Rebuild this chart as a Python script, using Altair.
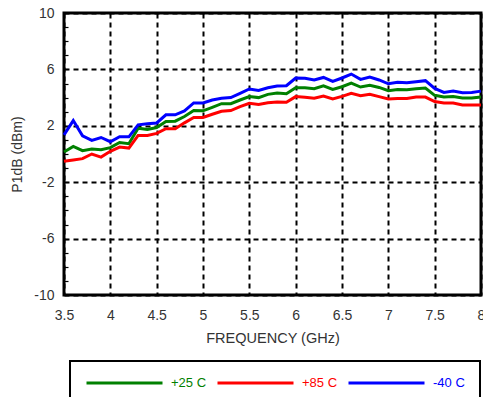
import altair as alt
import pandas as pd

freq = [3.5, 3.6, 3.7, 3.8, 3.9, 4.0, 4.1, 4.2, 4.3, 4.4, 4.5, 4.6, 4.7, 4.8, 4.9,
        5.0, 5.1, 5.2, 5.3, 5.4, 5.5, 5.6, 5.7, 5.8, 5.9, 6.0, 6.1, 6.2, 6.3, 6.4,
        6.5, 6.6, 6.7, 6.8, 6.9, 7.0, 7.1, 7.2, 7.3, 7.4, 7.5, 7.6, 7.7, 7.8, 7.9, 8.0]

p25 = [0.14, 0.54, 0.24, 0.35, 0.30, 0.45, 0.82, 0.73, 1.83, 1.74,
       1.88, 2.30, 2.33, 2.66, 3.08, 3.06, 3.31, 3.57, 3.57, 3.83,
       4.07, 4.00, 4.23, 4.33,
       4.28, 4.70, 4.70, 4.63, 4.84, 4.58, 4.77, 5.03, 4.75, 4.87,
       4.72, 4.49, 4.58, 4.56, 4.63, 4.68, 4.16, 4.05, 4.07, 3.98,
       3.98, 4.05]

p85 = [-0.52, -0.43, -0.33, 0.00, -0.22, 0.19, 0.49, 0.42, 1.32, 1.32,
       1.46, 1.79, 1.79, 2.21, 2.59, 2.59, 2.82, 3.03, 3.08, 3.36,
       3.59, 3.52, 3.64, 3.69,
       3.67, 4.07, 4.02, 3.95, 4.11, 3.90, 4.09, 4.30, 4.14, 4.23,
       4.07, 3.90, 3.93, 3.93, 4.04, 4.04, 3.72, 3.62, 3.62, 3.48,
       3.48, 3.48]

m40 = [1.36, 2.37, 1.29, 0.96, 1.17, 0.87, 1.22, 1.22, 2.07, 2.15,
       2.20, 2.78, 2.78, 3.06, 3.62, 3.62, 3.83, 3.95, 4.00, 4.30,
       4.61, 4.51, 4.70, 4.82,
       4.84, 5.39, 5.37, 5.25, 5.43, 5.15, 5.39, 5.67, 5.29, 5.46,
       5.25, 4.98, 5.08, 5.06, 5.13, 5.20, 4.65, 4.37, 4.46, 4.34,
       4.37, 4.46]

series_names = ["+25 C", "+85 C", "-40 C"]
series_colors = ["#008000", "#ff0000", "#0000ff"]
x_ticks = [3.5, 4.0, 4.5, 5.0, 5.5, 6.0, 6.5, 7.0, 7.5, 8.0]
y_ticks = [-10, -6, -2, 2, 6, 10]
y_minor = [-10, -9, -8, -7, -6, -5, -4, -3, -2, -1, 0, 1, 2, 3, 4, 5, 6, 7, 8, 9, 10]

rows = []
for name, vals in zip(series_names, [p25, p85, m40]):
    for f, v in zip(freq, vals):
        rows.append({"freq": f, "p1db": v, "series": name})
df = pd.DataFrame(rows)

FONT = "Liberation Sans"
TXT = "#333333"

label_color_expr = ("datum.label == '+25 C' ? '#008000' : "
                    "(datum.label == '+85 C' ? '#ff0000' : '#0000ff')")

x_enc = alt.X("freq:Q",
              scale=alt.Scale(domain=[3.5, 8.0], nice=False, zero=False),
              axis=alt.Axis(values=x_ticks, title="FREQUENCY (GHz)", grid=True,
                            gridColor="black", gridDash=[5, 4], gridWidth=2,
                            ticks=False, domain=False, labelFlush=False,
                            labelPadding=13, titlePadding=9,
                            labelFontSize=14, titleFontSize=14.5,
                            labelFont=FONT, titleFont=FONT,
                            labelColor=TXT, titleColor=TXT, titleFontWeight="normal",
                            labelExpr="toString(datum.value)"))

y_scale = alt.Scale(domain=[-10, 10], nice=False, zero=False)

lines = alt.Chart(df).mark_line(strokeWidth=3).encode(
    x=x_enc,
    y=alt.Y("p1db:Q", scale=y_scale,
            axis=alt.Axis(values=y_ticks, title="P1dB (dBm)", grid=True,
                          gridColor="black", gridDash=[5, 4], gridWidth=2,
                          ticks=False, domain=False, labelPadding=10,
                          titlePadding=9, labelFontSize=14, titleFontSize=14,
                          labelFont=FONT, titleFont=FONT, labelColor=TXT,
                          titleColor=TXT, titleFontWeight="normal",
                          labelExpr="toString(datum.value)")),
    color=alt.Color("series:N",
                    scale=alt.Scale(domain=series_names, range=series_colors),
                    sort=series_names,
                    legend=alt.Legend(orient="none", legendX=6, legendY=348,
                                      direction="horizontal", title=None,
                                      symbolType="stroke", symbolSize=5776,
                                      symbolStrokeWidth=3, labelFontSize=13,
                                      labelFont=FONT, labelOffset=7,
                                      columnPadding=9, padding=15,
                                      clipHeight=14,
                                      strokeColor="black", fillColor="white",
                                      labelColor={"expr": label_color_expr})),
)

minor = alt.Chart(df).mark_point(opacity=0).encode(
    x=x_enc,
    y=alt.Y("p1db:Q", scale=y_scale,
            axis=alt.Axis(orient="left", values=y_minor, labels=False, grid=False,
                          domain=False, ticks=True, tickSize=4, tickWidth=1.2,
                          tickColor="black", offset=-4, title=None)),
)

chart = alt.layer(lines, minor).resolve_axis(y="independent").properties(
    width=417, height=282,
    autosize=alt.AutoSizeParams(type="none"),
    padding={"left": 64, "top": 13, "right": 2, "bottom": 102},
).configure_view(stroke="black", strokeWidth=3).configure_legend(strokeWidth=2)

chart.save("out.html", embed_options={"renderer": "svg", "actions": False})
